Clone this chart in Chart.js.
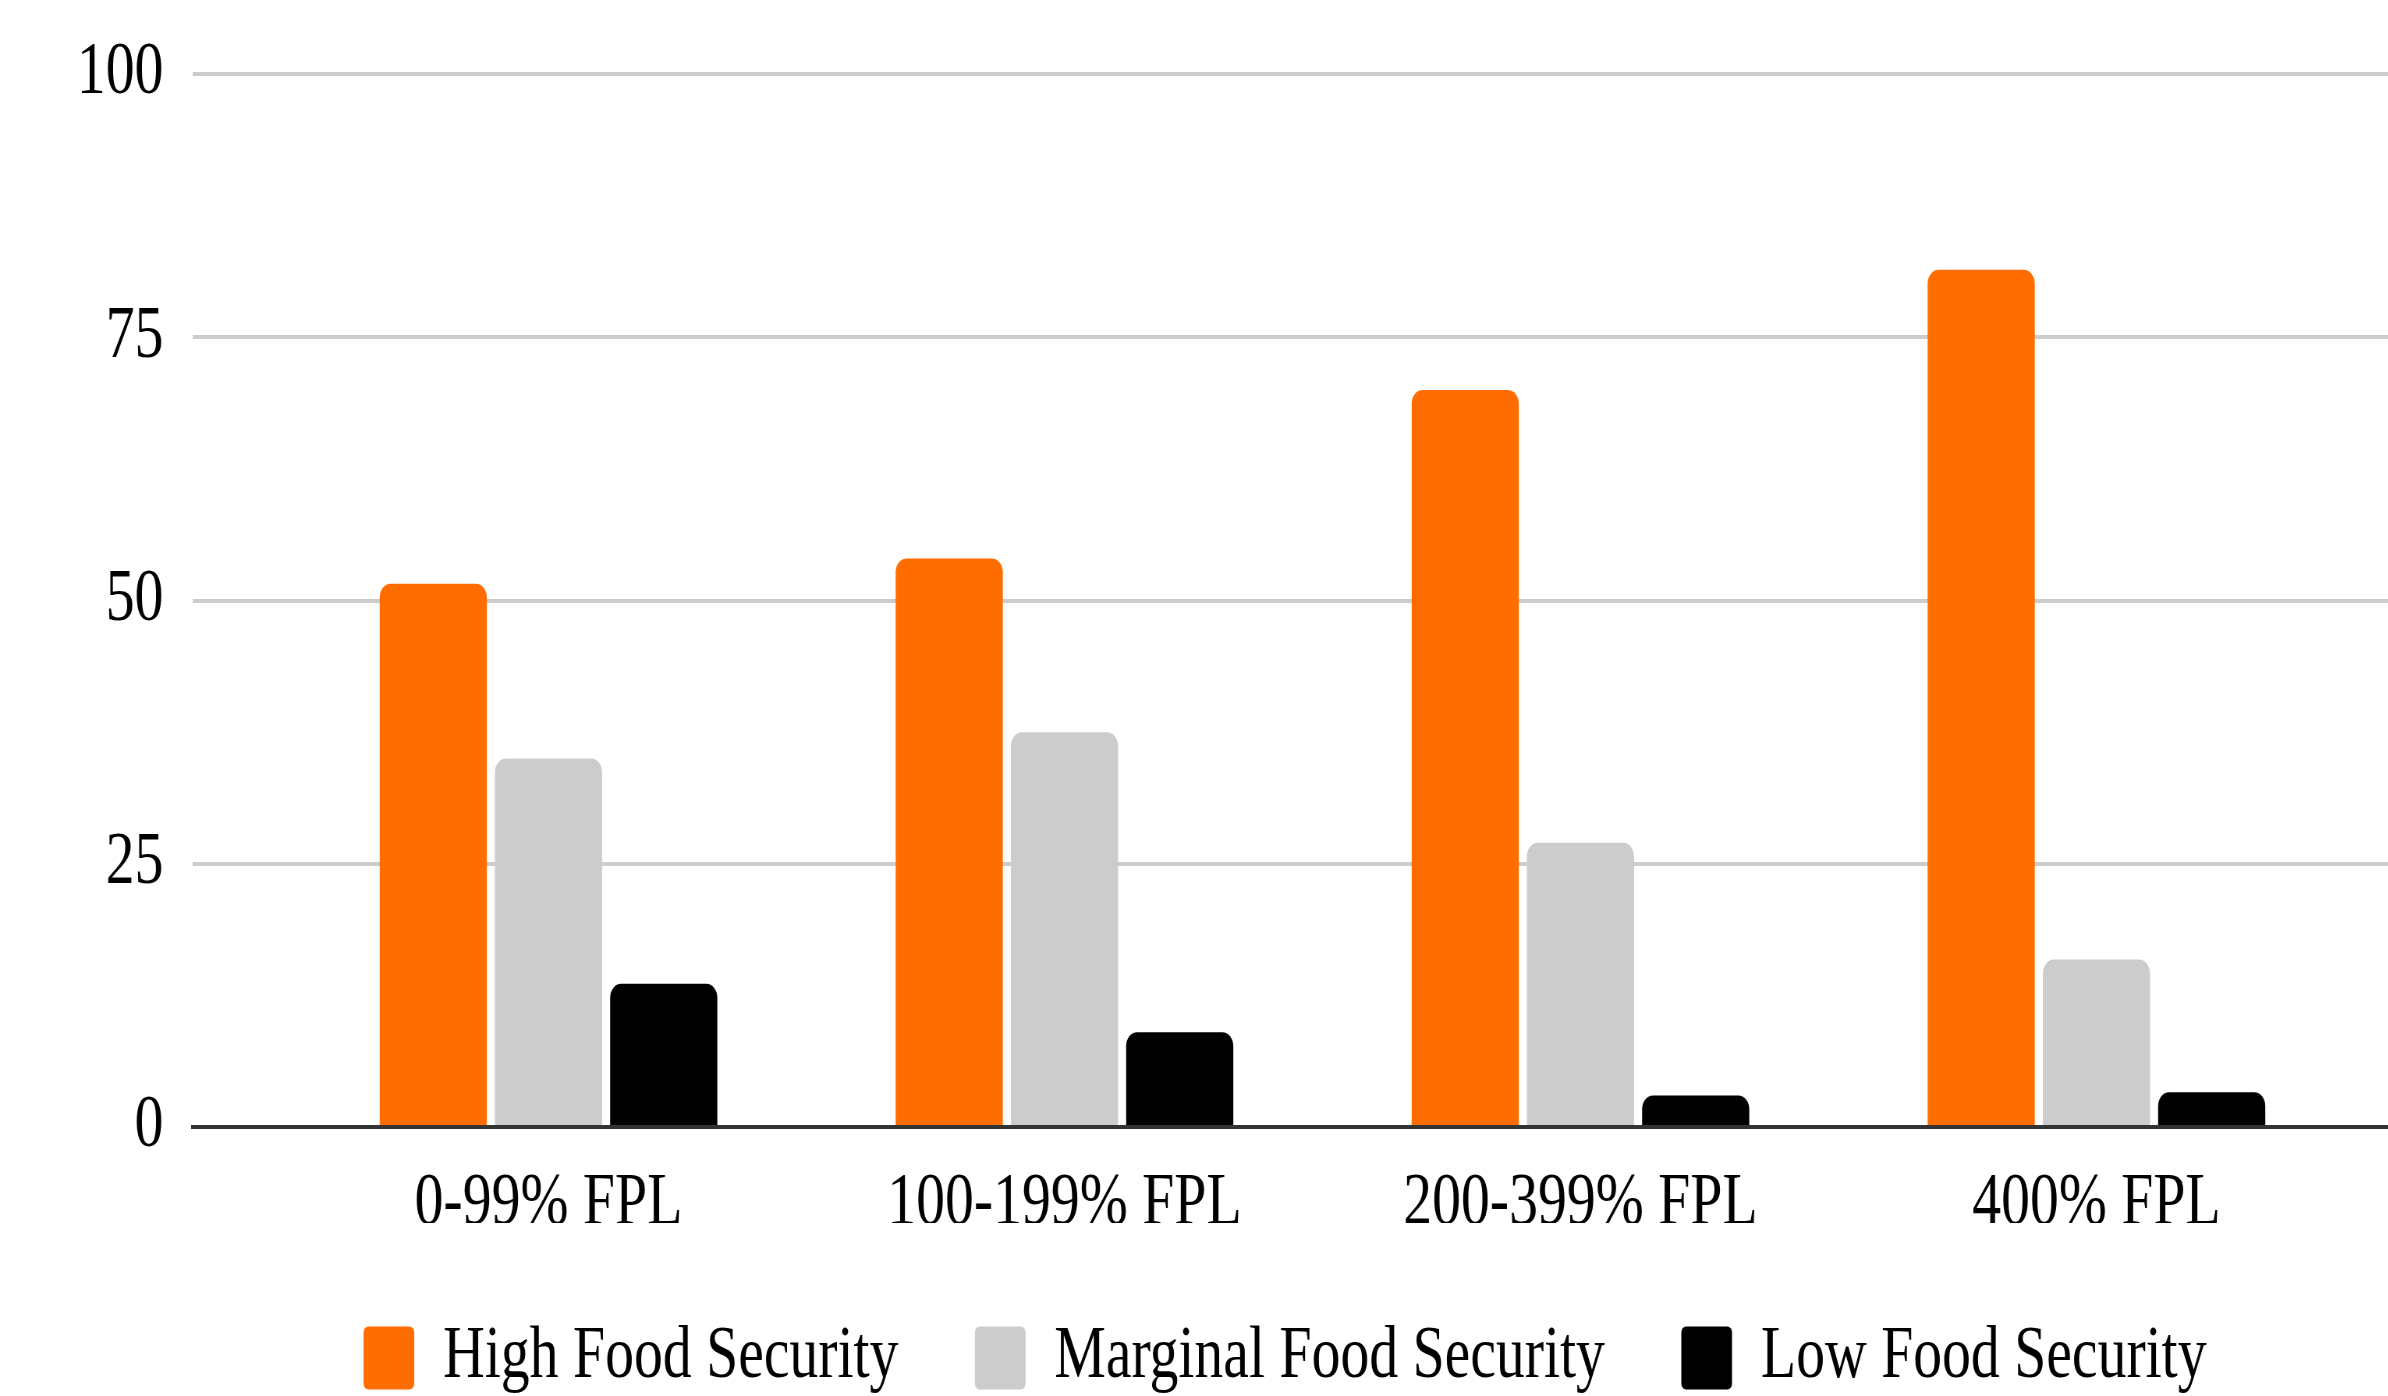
<!DOCTYPE html>
<html>
<head>
<meta charset="utf-8">
<script src="https://cdn.jsdelivr.net/npm/chart.js@4.4.1/dist/chart.umd.min.js"></script>
<style>
  html, body { margin: 0; padding: 0; background: #fff; overflow: hidden; }
  /* the source chart uses a condensed serif, so squeeze the whole canvas sideways */
  #chart { display: block; transform: scaleX(0.78); transform-origin: 0 0; }
</style>
</head>
<body>
<canvas id="chart" width="3295" height="1405"></canvas>
<script>
const categories = ['0-99% FPL', '100-199% FPL', '200-399% FPL', '400% FPL'];
const seriesNames = ['High Food Security', 'Marginal Food Security', 'Low Food Security'];
const highFood = [51.6, 54.0, 70.0, 81.4];
const marginalFood = [35.0, 37.5, 27.0, 15.9];
const lowFood = [13.6, 9.0, 3.0, 3.3];
const yTicks = [0, 25, 50, 75, 100];

const colors = ['#ff6d01', '#cccccc', '#000000'];
const FONT = 'Liberation Serif';

Chart.defaults.font.family = FONT;
Chart.defaults.font.size = 74;
Chart.defaults.color = '#000';

function toPoints(arr) {
  return arr.map((v, i) => ({ x: i, y: v }));
}

const datasets = [highFood, marginalFood, lowFood].map((arr, i) => ({
  label: seriesNames[i],
  data: toPoints(arr),
  backgroundColor: colors[i],
  borderWidth: 0,
  borderRadius: 14,
  borderSkipped: 'start',
  categoryPercentage: 0.67,
  barPercentage: 0.93
}));

new Chart(document.getElementById('chart'), {
  type: 'bar',
  data: { datasets: datasets },
  options: {
    responsive: false,
    animation: false,
    layout: { padding: { top: 74, left: 0, right: 0, bottom: 0 } },
    plugins: {
      tooltip: { enabled: false },
      legend: {
        position: 'bottom',
        labels: {
          boxWidth: 65,
          boxHeight: 63,
          padding: 98,
          useBorderRadius: true,
          borderRadius: 6,
          font: { size: 74 }
        }
      }
    },
    scales: {
      x: {
        type: 'linear',
        min: -0.689,
        max: 3.918,
        offset: false,
        z: 1,
        grid: { display: false, drawTicks: false, offset: false },
        border: { display: true, color: '#333', width: 4 },
        ticks: {
          stepSize: 1,
          includeBounds: false,
          autoSkip: false,
          maxRotation: 0,
          padding: 33,
          callback: v => (categories[v] !== undefined ? categories[v] : '')
        },
        afterFit: s => { s.height = 96; }
      },
      y: {
        min: 0,
        max: 100,
        grid: {
          color: c => (c.tick.value === 0 ? 'rgba(0,0,0,0)' : '#cccccc'),
          lineWidth: 4,
          drawTicks: false
        },
        border: { display: false },
        ticks: { stepSize: 25, padding: 38 },
        afterBuildTicks: s => { s.ticks = yTicks.map(v => ({ value: v })); },
        afterFit: s => {
          s.width = 247.4;
          s.paddingTop = 0;
          s.paddingBottom = 0;
        }
      }
    }
  }
});
</script>
</body>
</html>
